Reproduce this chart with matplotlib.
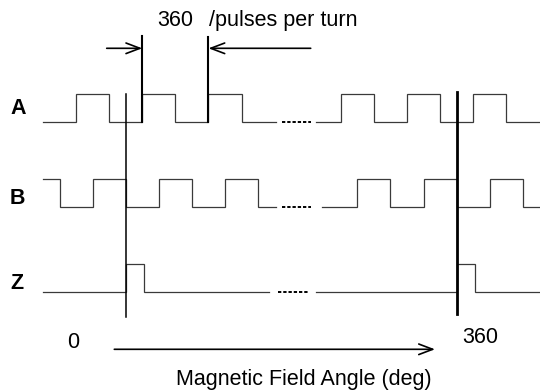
import matplotlib
matplotlib.use("Agg")
import matplotlib.pyplot as plt

plt.rcParams['font.family'] = ['Liberation Sans', 'DejaVu Sans']

# encoder signals, x in degrees of magnetic field angle (5 pulses per turn -> 72 deg period)
# each segment: edge positions + level after each edge (1 = high)
A_edges = [[-90, -54, -18, 18, 54, 90, 126, 164], [207, 234, 270, 306, 342, 378, 414, 451]]
A_levels = [[0, 1, 0, 1, 0, 1, 0, 0], [0, 1, 0, 1, 0, 1, 0, 0]]
B_edges = [[-90, -72, -36, 0, 36, 72, 108, 144, 164], [213, 252, 288, 324, 360, 396, 432, 451]]
B_levels = [[1, 0, 1, 0, 1, 0, 1, 0, 0], [0, 1, 0, 1, 0, 1, 0, 0]]
Z_edges = [[-90, 0, 20, 156], [207, 360, 380, 451]]
Z_levels = [[0, 1, 0, 0], [0, 1, 0, 0]]
# dashed "break" on each trace
breaks = {'A': (170, 202), 'B': (170, 202), 'Z': (166, 198)}

names = ['A', 'B', 'Z']
edges = [A_edges, B_edges, Z_edges]
levels = [A_levels, B_levels, Z_levels]

# layout (pixel rows)
base = {'A': 122, 'B': 207, 'Z': 292}
label_y = {'A': 114, 'B': 204, 'Z': 289}
amp = 28
px_per_deg = 331 / 360.0
x0 = 125.7


def px2deg(p):
    return (p - x0) / px_per_deg


fig = plt.figure(figsize=(5.4, 3.91), dpi=100)
ax = fig.add_axes([0, 0, 1, 1])
ax.set_xlim(px2deg(0), px2deg(540))
ax.set_ylim(391, 0)
ax.axis('off')

for name, ed, lv in zip(names, edges, levels):
    y0 = base[name]
    for e, l in zip(ed, lv):
        ys = [y0 - amp * v for v in l]
        ax.plot(e, ys, drawstyle='steps-post', color='#3a3a3a', lw=0.9,
                solid_joinstyle='miter')
    b0, b1 = breaks[name]
    ax.plot([b0, b1], [y0, y0], color='black', lw=1.4, ls=(0, (1.7, 1.0)))
    ax.text(px2deg(10), label_y[name], name,
            fontsize=15.5, fontweight='bold', va='baseline', ha='left')

# 0 and 360 deg reference lines
ax.plot([0, 0], [94, 317], color='black', lw=1.1)
ax.plot([360, 360], [91.5, 313.5], color='black', lw=2.0)

# one pulse period markers
ax.plot([18, 18], [36, 122], color='black', lw=1.5)
ax.plot([90, 90], [37, 122], color='black', lw=1.5)

arrow = dict(arrowstyle='->,head_length=1.0,head_width=0.38', mutation_scale=10,
             color='black', lw=1.2, shrinkA=0, shrinkB=0)
ax.annotate('', xy=(18, 48.3), xytext=(px2deg(106.7), 48.3), arrowprops=arrow)
ax.annotate('', xy=(90, 48.3), xytext=(px2deg(310.7), 48.3), arrowprops=arrow)
ax.annotate('', xy=(px2deg(435), 349.3), xytext=(px2deg(114.3), 349.3), arrowprops=arrow)

ax.text(px2deg(157), 26, '360', fontsize=15.5, va='baseline', ha='left')
ax.text(px2deg(209), 26, '/pulses per turn', fontsize=15.5, va='baseline', ha='left')
ax.text(px2deg(66.7), 348, '0', fontsize=15.5, va='baseline', ha='left')
ax.text(px2deg(462), 343, '360', fontsize=15.5, va='baseline', ha='left')
ax.text(px2deg(304), 385, 'Magnetic Field Angle (deg)', fontsize=15.5, va='baseline', ha='center')

fig.savefig('out.png', dpi=100)
